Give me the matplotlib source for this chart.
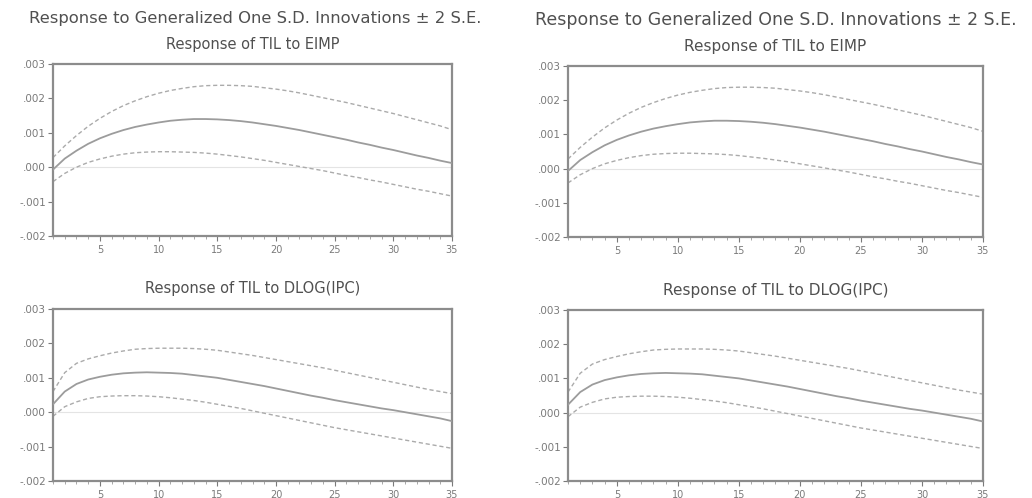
import matplotlib
matplotlib.use("Agg")
import matplotlib.pyplot as plt
from matplotlib.ticker import FuncFormatter, MultipleLocator

periods = list(range(1, 36))

eimp_center = [-0.00007, 0.00025, 0.00048, 0.00068, 0.00084, 0.00097, 0.00108, 0.00117, 0.00124, 0.0013,
               0.00135, 0.00138, 0.0014, 0.0014, 0.00139, 0.00137, 0.00134, 0.0013, 0.00125, 0.0012,
               0.00114, 0.00108, 0.00101, 0.00094, 0.00087, 0.0008, 0.00072, 0.00065, 0.00057, 0.0005,
               0.00042, 0.00034, 0.00027, 0.00019, 0.00012]
eimp_upper = [0.00028, 0.00062, 0.00092, 0.00119, 0.00142, 0.00162, 0.00179, 0.00193, 0.00205, 0.00215,
              0.00223, 0.00229, 0.00234, 0.00237, 0.00238, 0.00238, 0.00237, 0.00235, 0.00231, 0.00227,
              0.00222, 0.00216, 0.00209, 0.00202, 0.00195, 0.00188, 0.0018, 0.00172, 0.00164, 0.00156,
              0.00147, 0.00138, 0.00129, 0.0012, 0.00109]
eimp_lower = [-0.00042, -0.00018, 0.0, 0.00014, 0.00024, 0.00032, 0.00038, 0.00042, 0.00044, 0.00045,
              0.00045, 0.00044, 0.00043, 0.00041, 0.00038, 0.00034, 0.0003, 0.00025, 0.0002, 0.00014,
              0.00008, 0.00002, -0.00004, -0.0001, -0.00017, -0.00024, -0.0003, -0.00037, -0.00043, -0.0005,
              -0.00057, -0.00064, -0.0007, -0.00077, -0.00084]

ipc_center = [0.00023, 0.0006, 0.00082, 0.00095, 0.00103, 0.00109, 0.00113, 0.00115, 0.00116, 0.00115,
              0.00114, 0.00112, 0.00108, 0.00104, 0.001, 0.00094, 0.00088, 0.00082, 0.00076, 0.00069,
              0.00062, 0.00055, 0.00048, 0.00042, 0.00035, 0.00029, 0.00023, 0.00017, 0.00011, 0.00006,
              0.0, -0.00006, -0.00012, -0.00018, -0.00026]
ipc_upper = [0.0006, 0.00115, 0.00142, 0.00155, 0.00164, 0.00172, 0.00178, 0.00183, 0.00185, 0.00186,
             0.00186, 0.00186, 0.00185, 0.00183, 0.0018, 0.00175, 0.0017, 0.00165, 0.00159, 0.00153,
             0.00147, 0.00141, 0.00135, 0.00129, 0.00122, 0.00115, 0.00108, 0.00101, 0.00094, 0.00087,
             0.0008, 0.00073, 0.00066, 0.0006, 0.00054]
ipc_lower = [-0.00012, 0.00016, 0.0003, 0.0004, 0.00045, 0.00047, 0.00048, 0.00048, 0.00047, 0.00045,
             0.00042, 0.00038, 0.00034, 0.00029, 0.00023, 0.00017, 0.00011, 0.00004, -0.00003, -0.0001,
             -0.00017, -0.00024, -0.00031, -0.00038, -0.00045, -0.00051, -0.00057, -0.00063, -0.00069, -0.00075,
             -0.00081, -0.00087, -0.00093, -0.00099, -0.00105]

main_title = "Response to Generalized One S.D. Innovations \u00b1 2 S.E."
sub_titles = ["Response of TIL to EIMP", "Response of TIL to DLOG(IPC)"]
y_ticks = [-0.002, -0.001, 0.0, 0.001, 0.002, 0.003]
x_ticks = [5, 10, 15, 20, 25, 30, 35]

plt.rcParams['font.family'] = ['DejaVu Sans']

W, H = 1032, 498
fig = plt.figure(figsize=(W / 100, H / 100), dpi=100)
fig.patch.set_facecolor('white')

def fmt(v, pos):
    s = "%.3f" % v
    if s.startswith("-0"):
        s = "-" + s[2:]
    elif s.startswith("0"):
        s = s[1:]
    return s

frame_c = '#8c8c8c'
text_c = '#505050'
tick_c = '#7a7a7a'

# panel boxes in pixels: left, top, right, bottom, data, subtitle index, subtitle size
panels = [
    (53, 64, 452, 236, eimp_center, eimp_upper, eimp_lower, 0, 10.5),
    (53, 309, 452, 481, ipc_center, ipc_upper, ipc_lower, 1, 10.5),
    (568, 66, 983, 237, eimp_center, eimp_upper, eimp_lower, 0, 11.0),
    (568, 310, 983, 481, ipc_center, ipc_upper, ipc_lower, 1, 11.0),
]

for (l, t, r, b, c, u, lo, k, fs) in panels:
    ax = fig.add_axes([l / W, 1 - b / H, (r - l) / W, (b - t) / H])
    ax.axhline(0, color='#e4e4e4', lw=0.8, zorder=1)
    ax.plot(periods, u, color='#ababab', lw=1.0, ls=(0, (3, 2)), zorder=2)
    ax.plot(periods, lo, color='#ababab', lw=1.0, ls=(0, (3, 2)), zorder=2)
    ax.plot(periods, c, color='#9c9c9c', lw=1.3, zorder=3)
    ax.set_xlim(1, 35)
    ax.set_ylim(-0.002, 0.003)
    ax.set_yticks(y_ticks)
    ax.yaxis.set_major_formatter(FuncFormatter(fmt))
    ax.set_xticks(x_ticks)
    ax.xaxis.set_minor_locator(MultipleLocator(1))
    for s in ax.spines.values():
        s.set_color(frame_c)
        s.set_linewidth(1.6)
    ax.tick_params(axis='both', which='major', direction='out', length=3.5, width=0.8,
                   color=tick_c, labelcolor=tick_c, pad=1.5)
    ax.tick_params(axis='y', which='major', labelsize=7.5)
    ax.tick_params(axis='x', which='major', labelsize=7, pad=3)
    ax.tick_params(axis='x', which='minor', direction='out', length=2, width=0.6, color='#9a9a9a')
    cx = (l + r) / 2 / W
    fig.text(cx, 1 - (t - 20) / H, sub_titles[k], ha='center', va='center',
             fontsize=fs, color=text_c)

fig.text(255 / W, 1 - 18 / H, main_title, ha='center', va='center', fontsize=11.8, color=text_c)
fig.text(776 / W, 1 - 20 / H, main_title, ha='center', va='center', fontsize=12.5, color=text_c)

fig.savefig("out.png", dpi=100, facecolor='white')
